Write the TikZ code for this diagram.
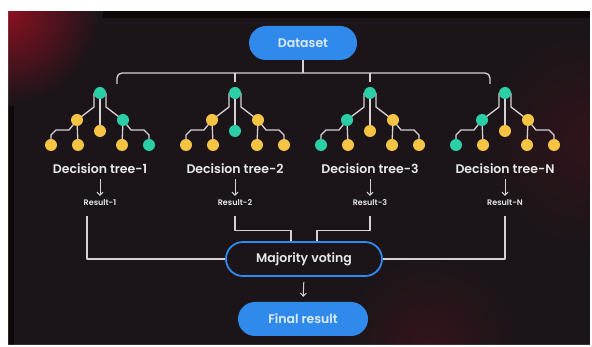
\documentclass[tikz,border=0pt]{standalone}
\usepackage{fontspec}
\setmainfont{Poppins}[BoldFont={Poppins SemiBold}]
\usetikzlibrary{arrows.meta}
\definecolor{panel}{HTML}{1B1519}
\definecolor{panelrim}{HTML}{0E0809}
\definecolor{glowred}{HTML}{A00F22}
\definecolor{c-T}{HTML}{2BCFA5}
\definecolor{c-Y}{HTML}{F6C445}
\definecolor{pillblue}{HTML}{2F8AEB}
\definecolor{wirec}{HTML}{D6D2D4}
\definecolor{inktext}{HTML}{E8E8E8}
\definecolor{pilltext}{HTML}{DCEBFC}
\pgfdeclarelayer{wires}
\pgfdeclarelayer{front}
\pgfsetlayers{main,wires,front}
\begin{document}
\begin{tikzpicture}[x=1pt,y=-1pt,
  wire/.style={draw=wirec, line width=1.3pt, line join=round},
  dot/.style={circle, minimum size=12pt, inner sep=0pt, fill=#1},
  pill/.style={rectangle, rounded corners=17pt, minimum height=34pt, inner sep=0pt,
    font=\bfseries\fontsize{12.5}{14}\selectfont},
  lbl/.style={text=inktext, inner sep=1pt, font=\bfseries\fontsize{12.5}{14}\selectfont},
  res/.style={text=inktext, inner sep=1pt, font=\bfseries\fontsize{8}{9}\selectfont},
  downarrow/.style={draw=wirec, line width=1pt, -{Straight Barb[length=3pt,width=6pt]}}]
\useasboundingbox (0,0) rectangle (592,347);

% backdrop panel; glows are stepped sectors traced point by point
\fill[panel] (8,11) rectangle (590,345);
% faint glow along the right edge
\foreach \k in {0,...,14}{
  \pgfmathsetmacro\mix{\k*1.1}
  \pgfmathsetmacro\rad{110-7.5*\k}
  \fill[glowred!\mix!panel] plot[domain=90:270, samples=25]
    ({590+\rad*cos(\x)}, {140-\rad*sin(\x)}) -- cycle;
}
% faint glow rising from the bottom edge
\foreach \k in {0,...,14}{
  \pgfmathsetmacro\mix{\k*1.3}
  \pgfmathsetmacro\rad{90-6*\k}
  \fill[glowred!\mix!panel] plot[domain=0:180, samples=25]
    ({430+\rad*cos(\x)}, {345-\rad*sin(\x)}) -- cycle;
}
\fill[panelrim] (8,11) rectangle (590,18);
\fill[panelrim] (8,11) rectangle (14,345);
% red glow in the upper left corner
\foreach \k in {0,...,19}{
  \pgfmathsetmacro\mix{\k*4.2}
  \pgfmathsetmacro\rad{95-4.6*\k}
  \fill[glowred!\mix!panel] (8,11) -- plot[domain=0:90, samples=19]
    ({8+\rad*cos(\x)}, {11+\rad*sin(\x)}) -- cycle;
}

\begin{pgfonlayer}{front}
% white frame round the panel
\fill[white, even odd rule] (0,0) rectangle (592,347) (8,11) rectangle (590,345);
% main boxes
\node[pill, fill=pillblue, text=pilltext, minimum width=108pt] (ds) at (303,43) {Dataset};
\node[pill, draw=pillblue, line width=1.8pt, fill=panel, text=inktext, minimum width=156pt] (mv) at (304,259) {Majority voting};
\node[pill, fill=pillblue, text=pilltext, minimum width=130pt] (fr) at (303,319) {Final result};
\end{pgfonlayer}

% branching bar from the dataset
\coordinate (bj) at (303,73);
\coordinate (bl) at (117,84);
\coordinate (br) at (490,84);
\coordinate (t2) at (235,82);
\coordinate (t3) at (370,82);
\begin{pgfonlayer}{wires}
  \draw[wire] (ds.south) -- (bj);
  \draw[wire, rounded corners=5pt] (bl) |- (bj) -| (br);
  \draw[wire] (t2 |- bj) -- (t2);
  \draw[wire] (t3 |- bj) -- (t3);
\end{pgfonlayer}

% the four decision trees
\foreach \i/\cx/\ca/\cb/\cc/\cd/\ce/\cf/\cg/\ch in
  {1/100/T/Y/Y/T/Y/Y/Y/T, 2/235/T/Y/T/Y/Y/Y/Y/Y, 3/370/T/T/Y/Y/T/Y/Y/Y, N/505/T/T/Y/Y/T/Y/Y/Y}{
  \begin{scope}[shift={(\cx,93)}]
    \begin{pgfonlayer}{front}
    \node[dot=c-\ca] (r\i) at (0,0) {};
    \node[dot=c-\cb] (a\i) at (-23,27) {};
    \node[dot=c-\cc] (m\i) at (0,38) {};
    \node[dot=c-\cd] (b\i) at (23,27) {};
    \node[dot=c-\ce] (aa\i) at (-49,52) {};
    \node[dot=c-\cf] (ab\i) at (-22,52) {};
    \node[dot=c-\cg] (ba\i) at (22,52) {};
    \node[dot=c-\ch] (bb\i) at (49,52) {};
    \end{pgfonlayer}
    \begin{pgfonlayer}{wires}
      \draw[wire] ([xshift=-6pt]r\i.center) -- ++(0,14) -- (a\i.center);
      \draw[wire] ([xshift=6pt]r\i.center) -- ++(0,14) -- (b\i.center);
      \draw[wire] (r\i.center) -- (m\i.center);
      \draw[wire] (a\i.center) -- ++(-8,10) -- ++(-13,0) -- ++(-5,5) -- (aa\i.center);
      \draw[wire] (a\i.center) -- (ab\i.center);
      \draw[wire] (b\i.center) -- ++(8,10) -- ++(13,0) -- ++(5,5) -- (bb\i.center);
      \draw[wire] (b\i.center) -- (ba\i.center);
    \end{pgfonlayer}
  \end{scope}
  \begin{pgfonlayer}{front}
  \node[lbl] (d\i) at (\cx,169) {Decision tree-\i};
  \node[res] (res\i) at (\cx,203) {Result-\i};
  \draw[downarrow, shorten <=4pt, shorten >=3pt] (d\i.south) -- (res\i.north);
  \end{pgfonlayer}
}

% results feeding the vote
\begin{pgfonlayer}{wires}
  \draw[wire] ([xshift=-13pt, yshift=-9pt]res1.south) |- (mv.west);
  \draw[wire] ([yshift=-9pt]res2.south) -- ++(0,14) -| ([xshift=-13pt]mv.north);
  \draw[wire] ([yshift=-9pt]res3.south) -- ++(0,14) -| ([xshift=13pt]mv.north);
  \draw[wire] ([yshift=-9pt]resN.south) |- (mv.east);
\end{pgfonlayer}
\begin{pgfonlayer}{front}
\draw[downarrow, shorten <=5pt, shorten >=5pt] (mv.south) -- (fr.north);
\end{pgfonlayer}
\end{tikzpicture}
\end{document}
